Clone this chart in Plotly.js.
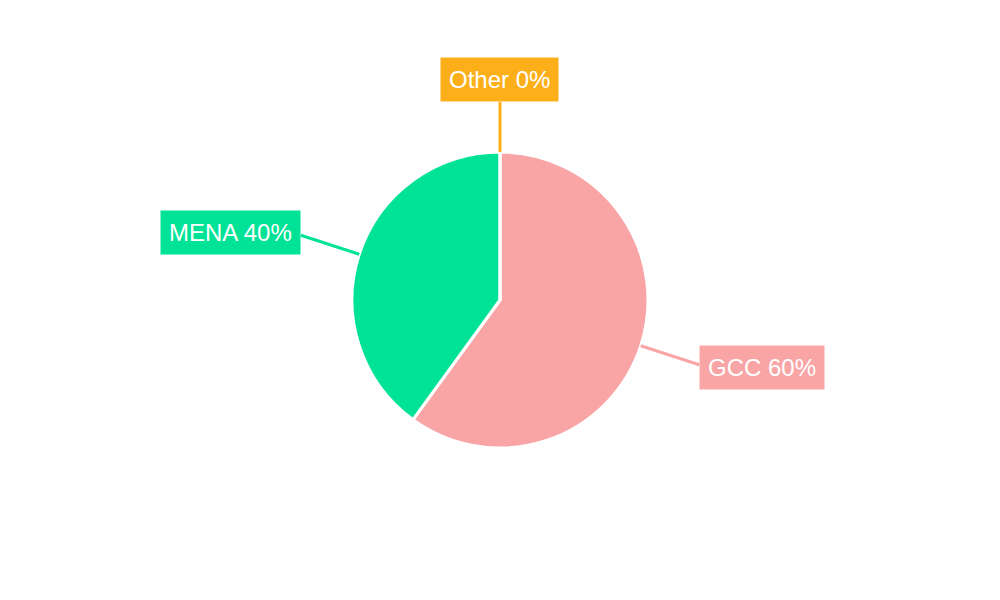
<!DOCTYPE html>
<html>
<head>
<meta charset="utf-8">
<script src="https://cdn.plot.ly/plotly-3.0.1.min.js"></script>
<style>
body { margin: 0; background: #fff; }
#chart { width: 1000px; height: 600px; }
</style>
</head>
<body>
<div id="chart"></div>
<script>
// Regional split shown in the pie.
var regions = ['GCC', 'MENA', 'Other'];
var shares = [60, 40, 0];
var regionColors = ['#F9A5A6', '#00E396', '#FDAF1A'];

var W = 1000, H = 600;
var cx = 500, cy = 300, radius = 148;

// Pie trace, placed so that its radius comes out at 148px.
var pie = {
type: 'pie',
labels: regions,
values: shares,
sort: false,
direction: 'clockwise',
rotation: 0,
textinfo: 'none',
hoverinfo: 'skip',
showlegend: false,
marker: {colors: regionColors, line: {color: '#ffffff', width: 3}},
domain: {x: [0, 1], y: [(cy - radius) / H, (cy + radius) / H]}
};

// Leader lines and boxed labels, worked out from each slice's middle angle.
var shapes = [];
var annotations = [];
var total = shares.reduce(function(a, b){ return a + b; }, 0);
var acc = 0;
for (var i = 0; i < regions.length; ++i){
var mid = (acc + shares[i] / 2) / total * 2 * Math.PI;
acc += shares[i];
var s = Math.sin(mid), c = Math.cos(mid);
var len = 50 + 12 * Math.abs(s);
var x0 = cx + radius * s, y0 = cy - radius * c;
var x1 = cx + (radius + len) * s, y1 = cy - (radius + len) * c;
shapes.push({
type: 'line', xref: 'paper', yref: 'paper',
x0: x0 / W, y0: 1 - y0 / H, x1: x1 / W, y1: 1 - y1 / H,
line: {color: regionColors[i], width: 3}
});
var xa = 'center', ya = 'middle';
var ty = y1;
if (s > 0.3) xa = 'left';
else if (s < -0.3) xa = 'right';
else ya = c > 0 ? 'bottom' : 'top';
// side labels sit a little further out along the leader line
if (ya == 'middle') ty = cy - (radius + len + 9) * c;
annotations.push({
xref: 'paper', yref: 'paper',
x: x1 / W, y: 1 - ty / H,
xanchor: xa, yanchor: ya,
text: regions[i] + ' ' + shares[i] + '%',
showarrow: false,
bgcolor: regionColors[i],
borderpad: 8,
font: {color: '#ffffff', size: 24, family: 'Liberation Sans, Arial, sans-serif'}
});
}

var layout = {
width: W, height: H,
margin: {l: 0, r: 0, t: 0, b: 0},
paper_bgcolor: '#ffffff',
shapes: shapes,
annotations: annotations
};

Plotly.newPlot('chart', [pie], layout, {displayModeBar: false, staticPlot: true});
</script>
</body>
</html>
